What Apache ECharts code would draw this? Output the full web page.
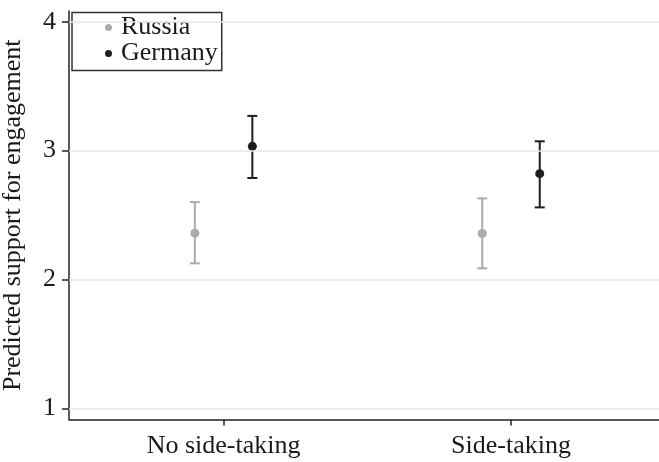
<!DOCTYPE html>
<html>
<head>
<meta charset="utf-8">
<script src="https://cdn.jsdelivr.net/npm/echarts@6/dist/echarts.min.js"></script>
<style>html,body{margin:0;padding:0;background:#fff;}#chart{width:659px;height:462px;}</style>
</head>
<body>
<div id="chart"></div>
<script>
const categories = ['No side-taking', 'Side-taking'];
const seriesNames = ['Russia', 'Germany'];
const russiaMean = [2.359, 2.356];
const russiaLow = [2.125, 2.086];
const russiaHigh = [2.600, 2.629];
const germanyMean = [3.033, 2.821];
const germanyLow = [2.787, 2.559];
const germanyHigh = [3.269, 3.072];
const yTicks = [1, 2, 3, 4];
const xTicks = [1, 2];

const FONT = 'Liberation Serif';
const TXT = '#1a1a1a';
const colors = { Russia: '#ababab', Germany: '#1e1e1e' };
const dodge = { Russia: -0.1, Germany: 0.1 };

function pts(name, mean) {
  return mean.map((v, i) => [xTicks[i] + dodge[name], v]);
}
function bars(name, low, high) {
  return low.map((v, i) => [xTicks[i] + dodge[name], v, high[i]]);
}
function errRender(color) {
  return function (params, api) {
    const x = api.value(0);
    const lo = api.coord([x, api.value(1)]);
    const hi = api.coord([x, api.value(2)]);
    const w = 5;
    const style = { stroke: color, lineWidth: 2 };
    return {
      type: 'group',
      children: [
        { type: 'line', shape: { x1: lo[0], y1: lo[1], x2: hi[0], y2: hi[1] }, style },
        { type: 'line', shape: { x1: lo[0] - w, y1: lo[1], x2: lo[0] + w, y2: lo[1] }, style },
        { type: 'line', shape: { x1: hi[0] - w, y1: hi[1], x2: hi[0] + w, y2: hi[1] }, style }
      ]
    };
  };
}

const chart = echarts.init(document.getElementById('chart'), null, { renderer: 'canvas' });
chart.setOption({
  animation: false,
  backgroundColor: '#fff',
  textStyle: { fontFamily: FONT },
  grid: { left: 69, right: 0, top: 11, bottom: 42.5, containLabel: false, outerBoundsMode: 'none' },
  legend: {
    orient: 'vertical',
    left: 72, top: 12.5,
    data: seriesNames.map(n => ({ name: n, icon: 'circle' })),
    itemWidth: 7, itemHeight: 7, itemGap: 0,
    textStyle: { fontFamily: FONT, fontSize: 26, color: TXT, lineHeight: 24, padding: [0, 0, 0, 4] },
    backgroundColor: '#fff',
    borderColor: '#333', borderWidth: 1.5, borderRadius: 0,
    padding: [2, 4, 4, 33]
  },
  xAxis: {
    type: 'value', min: 0.462, max: 2.515,
    axisLine: { show: true, lineStyle: { color: '#222', width: 1.5 } },
    axisTick: { show: true, customValues: xTicks, length: 6, lineStyle: { color: '#222', width: 1.5 } },
    axisLabel: { show: true, customValues: xTicks, margin: 14, fontFamily: FONT, fontSize: 26, color: TXT,
      formatter: v => categories[Math.round(v) - 1] },
    splitLine: { show: false }
  },
  yAxis: {
    type: 'value', min: 0.913, max: 4.083,
    name: 'Predicted support for engagement',
    nameLocation: 'middle', nameGap: 43,
    nameTextStyle: { fontFamily: FONT, fontSize: 26, color: TXT },
    axisLine: { show: true, lineStyle: { color: '#222', width: 1.5 } },
    axisTick: { show: true, customValues: yTicks, length: 7, lineStyle: { color: '#222', width: 1.5 } },
    axisLabel: { show: true, customValues: yTicks, margin: 13, fontFamily: FONT, fontSize: 26, color: TXT },
    splitLine: { show: false }
  },
  series: [
    {
      type: 'line', name: 'grid', data: [], silent: true, z: 0,
      markLine: {
        silent: true, symbol: 'none', label: { show: false },
        lineStyle: { color: '#e6e6e6', width: 1.5, type: 'solid' },
        data: yTicks.map(v => ({ yAxis: v }))
      }
    },
    { type: 'custom', name: 'Russia CI', renderItem: errRender(colors.Russia), data: bars('Russia', russiaLow, russiaHigh), z: 2 },
    { type: 'custom', name: 'Germany CI', renderItem: errRender(colors.Germany), data: bars('Germany', germanyLow, germanyHigh), z: 2 },
    { type: 'scatter', name: 'Russia', data: pts('Russia', russiaMean), symbol: 'circle', symbolSize: 9, itemStyle: { color: colors.Russia, opacity: 1 }, z: 3 },
    { type: 'scatter', name: 'Germany', data: pts('Germany', germanyMean), symbol: 'circle', symbolSize: 9, itemStyle: { color: colors.Germany, opacity: 1 }, z: 3 }
  ]
});
</script>
</body>
</html>
